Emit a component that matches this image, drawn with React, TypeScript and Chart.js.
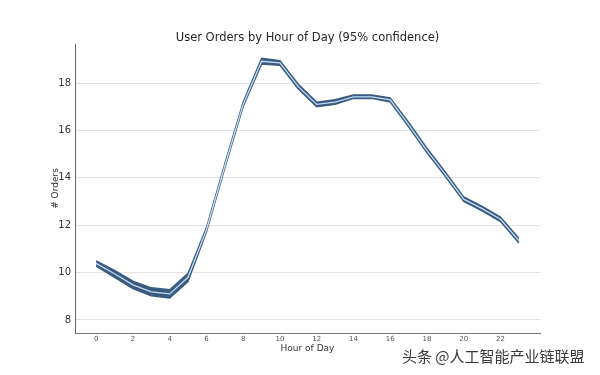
import React, { useEffect, useRef } from "react";
import { Chart, registerables } from "chart.js";

Chart.register(...registerables);

const hours = [0, 1, 2, 3, 4, 5, 6, 7, 8, 9, 10, 11, 12, 13, 14, 15, 16, 17, 18, 19, 20, 21, 22, 23];
const upper = [10.5, 10.1, 9.64, 9.36, 9.28, 9.97, 11.9, 14.6, 17.2, 19.05, 18.95, 17.95, 17.2, 17.3, 17.5, 17.5, 17.38, 16.35, 15.25, 14.25, 13.2, 12.8, 12.35, 11.45];
const lower = [10.27, 9.8, 9.32, 9.02, 8.92, 9.62, 11.7, 14.4, 17.0, 18.8, 18.75, 17.75, 17.0, 17.1, 17.35, 17.35, 17.2, 16.15, 15.05, 14.05, 13.0, 12.6, 12.15, 11.25];
const meanVals = [10.39, 9.95, 9.48, 9.19, 9.1, 9.8, 11.8, 14.5, 17.1, 18.92, 18.85, 17.85, 17.1, 17.2, 17.42, 17.42, 17.29, 16.25, 15.15, 14.15, 13.1, 12.7, 12.25, 11.35];
const xTicks = [0, 2, 4, 6, 8, 10, 12, 14, 16, 18, 20, 22];
const yTicks = [8, 10, 12, 14, 16, 18];

const DARK = "#3a5a7f";
const LIGHT = "#c2dcf4";

export default function App() {
  const ref = useRef<HTMLCanvasElement>(null);
  useEffect(() => {
    const ctx = ref.current!;
    const pts = (arr: number[]) => hours.map((h, i) => ({ x: h, y: arr[i] }));
    const chart = new Chart(ctx, {
      type: "line",
      data: {
        datasets: [
          {
            data: pts(upper),
            borderColor: DARK,
            borderWidth: 1.3,
            pointRadius: 0,
            fill: "+1",
            backgroundColor: DARK,
            tension: 0,
            order: 2,
          },
          {
            data: pts(lower),
            borderColor: DARK,
            borderWidth: 1.3,
            pointRadius: 0,
            fill: false,
            tension: 0,
            order: 1,
          },
          {
            data: pts(meanVals),
            borderColor: LIGHT,
            borderWidth: 1.3,
            pointRadius: 0,
            fill: false,
            tension: 0,
            order: 0,
          },
        ],
      },
      options: {
        animation: false,
        responsive: false,
        maintainAspectRatio: false,
        layout: { padding: { left: 44, right: 60, top: 44, bottom: 21 } },
        plugins: {
          legend: { display: false },
          tooltip: { enabled: false },
          title: { display: false },
        },
        scales: {
          x: {
            type: "linear",
            min: -1.15,
            max: 24.15,
            afterBuildTicks: (axis: any) => {
              axis.ticks = xTicks.map((v) => ({ value: v }));
            },
            afterFit: (axis: any) => {
              axis.height = 21;
            },
            grid: { display: false, drawTicks: false },
            border: { display: true, color: "#777", width: 1 },
            ticks: {
              color: "#555",
              font: { family: "DejaVu Sans", size: 7 },
              padding: 2,
              maxRotation: 0,
              autoSkip: false,
            },
            title: {
              display: true,
              text: "Hour of Day",
              color: "#333",
              font: { family: "DejaVu Sans", size: 9 },
              padding: { top: 0, bottom: 0 },
            },
          },
          y: {
            type: "linear",
            min: 7.45,
            max: 19.65,
            afterBuildTicks: (axis: any) => {
              axis.ticks = yTicks.map((v) => ({ value: v }));
            },
            afterFit: (axis: any) => {
              axis.width = 31;
            },
            grid: { display: true, color: "#e3e3e3", lineWidth: 1, drawTicks: false },
            border: { display: true, color: "#666", width: 1 },
            ticks: {
              color: "#333",
              font: { family: "DejaVu Sans", size: 10 },
              padding: 4,
            },
            title: {
              display: true,
              text: "# Orders",
              color: "#333",
              font: { family: "DejaVu Sans", size: 9 },
              padding: { top: 6, bottom: 0 },
            },
          },
        },
      },
    });
    return () => chart.destroy();
  }, []);
  return (
    <div style={{ position: "absolute", left: 0, top: 0, width: 600, height: 375, background: "#fff" }}>
      <canvas ref={ref} width={600} height={375} style={{ width: 600, height: 375, display: "block" }} />
      <div
        style={{
          position: "absolute",
          left: 75,
          width: 465,
          top: 29,
          textAlign: "center",
          fontFamily: "DejaVu Sans",
          fontSize: 11.5,
          color: "#262626",
          whiteSpace: "nowrap",
          lineHeight: "16px",
        }}
      >
        User Orders by Hour of Day (95% confidence)
      </div>
      <div
        style={{
          position: "absolute",
          left: 402,
          top: 346,
          fontFamily: "Noto Sans CJK SC",
          fontSize: 15,
          color: "#3a3a3a",
          whiteSpace: "nowrap",
          lineHeight: "20px",
        }}
      >
        头条 @人工智能产业链联盟
      </div>
    </div>
  );
}
